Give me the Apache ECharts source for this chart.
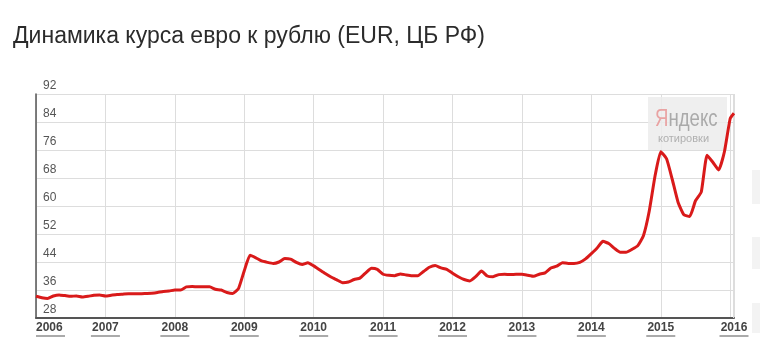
<!DOCTYPE html>
<html><head><meta charset="utf-8">
<script src="https://cdn.jsdelivr.net/npm/echarts@6/dist/echarts.min.js"></script>
<style>html,body{margin:0;padding:0;background:#fff}#c{width:760px;height:347px}</style>
</head><body><div id="c"></div>
<script>
const titleText = 'Динамика курса евро к рублю (EUR, ЦБ РФ)';
const dates = [
 '2006-01','2006-02','2006-03','2006-04','2006-05','2006-06','2006-07','2006-08','2006-09','2006-10','2006-11','2006-12',
 '2007-01','2007-02','2007-03','2007-04','2007-05','2007-06','2007-07','2007-08','2007-09','2007-10','2007-11','2007-12',
 '2008-01','2008-02','2008-03','2008-04','2008-05','2008-06','2008-07','2008-08','2008-09','2008-10','2008-11','2008-12',
 '2009-01','2009-02','2009-03','2009-04','2009-05','2009-06','2009-07','2009-08','2009-09','2009-10','2009-11','2009-12',
 '2010-01','2010-02','2010-03','2010-04','2010-05','2010-06','2010-07','2010-08','2010-09','2010-10','2010-11','2010-12',
 '2011-01','2011-02','2011-03','2011-04','2011-05','2011-06','2011-07','2011-08','2011-09','2011-10','2011-11','2011-12',
 '2012-01','2012-02','2012-03','2012-04','2012-05','2012-06','2012-07','2012-08','2012-09','2012-10','2012-11','2012-12',
 '2013-01','2013-02','2013-03','2013-04','2013-05','2013-06','2013-07','2013-08','2013-09','2013-10','2013-11','2013-12',
 '2014-01','2014-02','2014-03','2014-04','2014-05','2014-06','2014-07','2014-08','2014-09','2014-10','2014-11','2014-12',
 '2015-01','2015-02','2015-03','2015-04','2015-05','2015-06','2015-07','2015-08','2015-09','2015-10','2015-11','2015-12',
 '2016-01','2016-01-21'
];
const eurRub = [
 34.2,33.8,33.6,34.3,34.6,34.4,34.2,34.3,34.0,34.2,34.5,34.6,
 34.3,34.5,34.7,34.8,34.9,34.9,34.9,35.0,35.1,35.3,35.6,35.7,
 36.0,36.0,36.9,37.0,36.9,36.9,36.9,36.2,36.0,35.3,35.0,36.4,
 41.5,45.9,45.2,44.3,43.9,43.6,44.0,45.0,44.8,43.9,43.3,43.8,
 42.9,41.8,40.7,39.7,38.9,38.1,38.3,39.0,39.4,40.9,42.2,41.9,
 40.5,40.2,40.1,40.6,40.3,40.1,40.1,41.3,42.5,43.0,42.3,41.9,
 40.8,39.8,39.0,38.6,39.8,41.4,40.0,39.8,40.4,40.5,40.4,40.5,
 40.5,40.2,39.9,40.5,40.9,42.3,42.8,43.8,43.6,43.6,43.9,44.9,
 46.4,48.0,49.9,49.3,47.9,46.8,46.8,47.6,48.6,51.5,58.5,68.5,
 75.5,73.5,67.5,61.0,57.5,57.0,61.5,64.0,74.5,72.5,70.3,75.5,
 85.0,86.5
];
const yTicks = [28,36,44,52,60,68,76,84,92];
const xYears = [2006,2007,2008,2009,2010,2011,2012,2013,2014,2015,2016];
const xEnd = '2016-01-21';

function toYear(s){const p=s.split('-').map(Number);return p[0]+(p[1]-1)/12+((p[2]||1)-1)/365;}
const seriesData = dates.map((d,i)=>[toYear(d),eurRub[i]]);

const chart = echarts.init(document.getElementById('c'),null,{renderer:'canvas'});
chart.setOption({
  animation:false,
  backgroundColor:'#fff',
  title:{text:titleText,left:8,top:20,textStyle:{fontFamily:'Liberation Sans, Arial',fontSize:23,fontWeight:'normal',color:'#2b2b2b'}},
  grid:{left:36,right:26,top:94,bottom:29},
  xAxis:{type:'value',min:xYears[0],max:toYear(xEnd),interval:1,
    axisLine:{show:true,lineStyle:{color:'#555',width:2}},
    axisTick:{show:false},
    splitLine:{show:true,lineStyle:{color:'#ddd',width:1}},
    axisLabel:{margin:3,alignMinLabel:'left',showMaxLabel:true,
      formatter:v=>'{a|'+Math.round(v)+'}\n{u|}',
      rich:{a:{fontFamily:'Liberation Sans, Arial',fontSize:12,fontWeight:'bold',color:'#444',lineHeight:14},
            u:{width:29,height:1,backgroundColor:'#555',lineHeight:2}}}},
  yAxis:{type:'value',min:yTicks[0],max:yTicks[yTicks.length-1],interval:8,
    axisLine:{show:true,lineStyle:{color:'#555',width:1.5}},
    axisTick:{show:false},
    splitLine:{show:true,lineStyle:{color:'#ddd',width:1}},
    axisLabel:{inside:true,margin:7,verticalAlign:'bottom',
      formatter:v=>'{a|'+v+'}',
      rich:{a:{fontFamily:'Liberation Sans, Arial',fontSize:12,color:'#555',padding:[0,0,2,0]}}}},
  graphic:[
    {type:'rect',right:26,top:94,shape:{width:1,height:224},style:{fill:'#ddd'},z:1},
    {type:'rect',left:648,top:97,shape:{width:79,height:53},style:{fill:'rgba(236,236,236,0.85)'},z:5},
    {type:'text',x:655,y:108,scaleX:0.81,style:{text:'{r|Я}{g|ндекс}',rich:{r:{fontFamily:'Liberation Sans, Arial',fontSize:23,fill:'#e9a3a3'},g:{fontFamily:'Liberation Sans, Arial',fontSize:23,fill:'#aaaaaa'}}},z:6},
    {type:'text',left:658,top:133,style:{text:'котировки',fontFamily:'Liberation Sans, Arial',fontSize:11,fill:'#b0b0b0'},z:6},
    {type:'rect',left:752,top:170,shape:{width:8,height:34},style:{fill:'#f3f3f3'}},
    {type:'rect',left:752,top:237,shape:{width:8,height:32},style:{fill:'#f3f3f3'}},
    {type:'rect',left:752,top:303,shape:{width:8,height:30},style:{fill:'#f3f3f3'}}
  ],
  series:[{type:'line',data:seriesData,showSymbol:false,smooth:0.15,z:10,
    lineStyle:{color:'#d91a1a',width:3},emphasis:{disabled:true}}]
});
</script></body></html>
